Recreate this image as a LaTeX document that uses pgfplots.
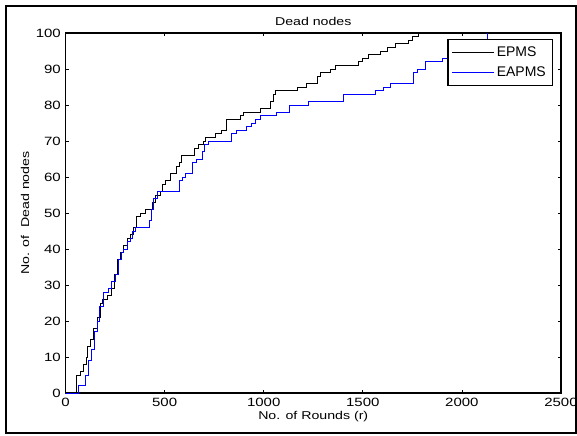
\documentclass[border=0pt]{standalone}
\usepackage{fontspec}
\setmainfont{Liberation Sans}
\usepackage{graphicx}
\usepackage{pgfplots}
\pgfplotsset{compat=1.18}
% the MATLAB export stretches its text sideways
\newcommand{\sx}[1]{\scalebox{1.25}[1]{#1}}

\begin{document}
\begin{tikzpicture}[x=0.75pt,y=0.75pt]
% page = whole figure, frame round it
\path[use as bounding box] (-65.5,-42) rectangle (511.5,393);
\draw[line width=1.2pt] (-59.5,-40) rectangle (510.5,387);
\begin{axis}[
    at={(0,0)}, anchor=south west,
    scale only axis,
    width=371.6pt, height=270pt,
    xmin=0, xmax=2500, ymin=0, ymax=100,
    xtick={0,500,...,2500},
    ytick={0,10,...,100},
    tick align=inside,
    major tick length=2.5pt,
    axis line style={line width=0.9pt},
    tick style={black, line width=0.5pt},
    scaled x ticks=false,
    /pgf/number format/assume math mode=true,
    /pgf/number format/1000 sep={},
    xticklabel={\sx{\pgfmathprintnumber{\tick}}},
    yticklabel={\sx{\pgfmathprintnumber{\tick}}},
    tick label style={font=\fontsize{9}{10}\selectfont},
    title={\sx{Dead nodes}},
    title style={font=\fontsize{8.5}{10}\selectfont, yshift=-4pt},
    xlabel={\sx{No. of Rounds (r)}},
    ylabel={\sx{No. of\ \ Dead nodes}},
    label style={font=\fontsize{8.5}{10}\selectfont},
    xlabel style={yshift=3pt},
    ylabel style={yshift=-2pt},
    legend style={at={(rel axis cs:0.984,0.983)}, anchor=north east,
        font=\fontsize{10.5}{12}\selectfont, draw=black, line width=0.9pt,
        row sep=2.5pt, inner xsep=3pt, inner ysep=3pt},
    legend cell align=left,
    legend image code/.code={\draw[#1, line width=0.6pt] (0pt,0pt) -- (31pt,0pt);},
]

% EPMS
\addplot[const plot, black, line width=0.6pt] coordinates {
(0,0) (53,5) (73,6) (88,8) (103,10) (111,13) (124,15) (139,18) (159,21)
(174,25) (184,26) (210,27) (230,29) (245,33) (260,37) (275,39) (290,41)
(311,43) (326,44) (341,46) (360,49) (376,50) (401,51) (437,53) (452,55)
(477,56) (487,58) (502,59) (528,61) (558,63) (573,64) (587,66) (649,68)
(669,69) (694,70) (704,71) (755,72) (789,73) (814,76) (881,77) (896,78)
(982,79) (1033,81) (1048,83) (1058,84) (1169,85) (1215,86) (1270,88)
(1285,89) (1336,90) (1361,91) (1477,92) (1497,93) (1528,94) (1588,95)
(1623,96) (1664,97) (1730,98) (1750,99) (1780,100)
};
\addlegendentry{EPMS}

% EAPMS
\addplot[const plot, blue, line width=0.6pt] coordinates {
(0,0) (63,2) (98,5) (114,9) (129,12) (144,17) (159,20) (169,24) (189,28)
(215,29) (230,31) (250,33) (265,37) (280,39) (290,40) (311,42) (326,43)
(336,45) (351,46) (422,48) (432,51) (442,54) (462,56) (573,59) (588,60)
(604,61) (641,64) (662,65) (689,67) (699,69) (720,70) (839,72) (861,73)
(912,74) (940,75) (957,76) (982,77) (1063,78) (1129,80) (1225,81)
(1401,83) (1563,84) (1603,85) (1639,86) (1755,89) (1775,90) (1815,92)
(1900,93) (1980,95) (2050,97) (2128,100)
};
\addlegendentry{EAPMS}

\end{axis}
\end{tikzpicture}
\end{document}
